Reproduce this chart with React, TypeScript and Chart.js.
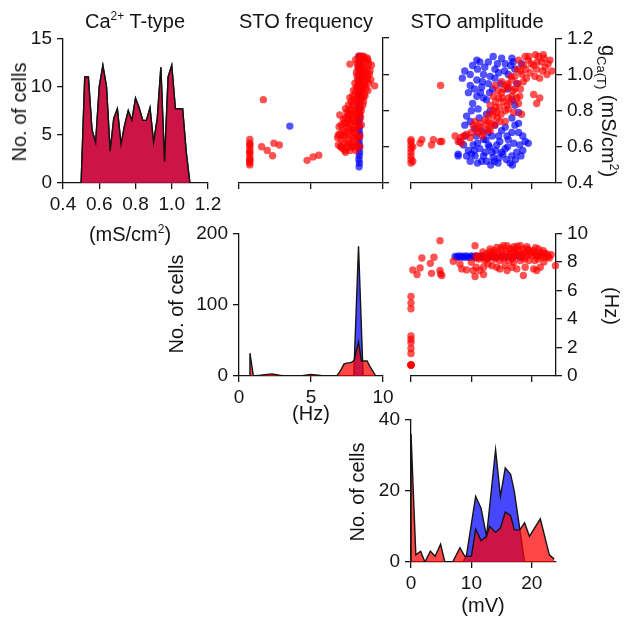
import React, { useEffect, useRef } from 'react';
import { Chart, registerables } from 'chart.js';
Chart.register(...registerables);

const FONT = "'Liberation Sans', Arial, Helvetica, sans-serif";
const INK = '#141414';
const RED_AREA = 'rgba(255,0,0,0.72)';
const BLUE_AREA = 'rgba(0,0,255,0.72)';
const RED_DOT = 'rgba(255,0,0,0.68)';
const BLUE_DOT = 'rgba(0,0,255,0.68)';

// ---------- tick values ----------
const gcaTicks = [0.4, 0.6, 0.8, 1.0, 1.2];
const cellTicksGca = [0, 5, 10, 15];
const hzTicks = [0, 5, 10];
const cellTicksHz = [0, 100, 200];
const mvTicks = [0, 10, 20];
const hzTicksRight = [0, 2, 4, 6, 8, 10];
const cellTicksMv = [0, 20, 40];

// ---------- histogram of g_Ca(T) (both groups identical) ----------
const gcaBins = [0.50, 0.52, 0.54, 0.56, 0.58, 0.60, 0.62, 0.64, 0.66, 0.68, 0.70, 0.72, 0.74, 0.76, 0.78, 0.80,
  0.82, 0.84, 0.86, 0.88, 0.90, 0.92, 0.94, 0.96, 0.98, 1.00, 1.02, 1.04, 1.06, 1.08, 1.10];
const gcaCounts = [0, 11, 11, 5.5, 4.2, 10, 12.2, 10, 3.3, 6.7, 7.7, 4, 6, 7.5, 6.5, 8.8,
  7.8, 6.5, 6.5, 7.8, 4.2, 6.7, 12, 2.2, 11, 12.2, 7.7, 7.7, 7.7, 3.2, 0];

// ---------- histogram of STO frequency ----------
const freqRedHz = [0.72, 0.76, 1.0, 1.5, 1.8, 2.3, 2.8, 3.2, 4.3, 4.6, 5.0, 5.5, 5.9, 6.8, 7.0, 7.3, 7.5, 7.8, 8.0, 8.3, 8.5, 8.9, 9.1, 9.5];
const freqRedCounts = [0, 32, 0, 1, 2, 3, 1, 0, 0, 1, 2, 1, 0, 0, 6, 17, 18, 19, 22, 48, 21, 21, 13, 0];
const freqBlueHz = [7.97, 8.3, 8.62];
const freqBlueCounts = [0, 182, 0];

// ---------- histogram of STO amplitude ----------
const ampRedMv = [0, 0, 0.8, 1.6, 2.3, 3.2, 4.0, 4.9, 5.6, 6.9, 8.1, 8.9, 10.0, 10.7, 11.6, 12.5, 13.0, 14.0, 14.8, 15.6, 16.5, 17.1, 18.0, 18.8, 19.6, 21.4, 22.9, 23.7];
const ampRedCounts = [0, 36, 2, 3, 0, 3, 1.6, 5, 0, 0, 4, 1.6, 1.6, 9.2, 6, 7.2, 10, 8.3, 9.5, 14, 13, 9, 9, 11, 7.2, 12.1, 2, 0.8];
const ampBlueMv = [8.6, 9.2, 10.7, 11.6, 12.5, 14.0, 14.8, 15.6, 16.5, 17.1, 18.8];
const ampBlueCounts = [0, 2, 18.4, 15.1, 7.2, 31.5, 18.4, 26.4, 24.5, 19.8, 0];

// ---------- scatter: STO frequency (Hz) vs g_Ca(T) ----------
const freqGcaBlue = [
  [8.34, 0.49], [8.36, 0.51], [8.33, 0.53], [8.35, 0.55], [8.37, 0.57], [8.34, 0.59], [8.36, 0.61], [8.33, 0.63],
  [8.35, 0.65], [8.37, 0.67], [8.34, 0.69], [8.36, 0.71], [8.33, 0.73], [8.35, 0.75], [8.37, 0.77], [8.34, 0.79],
  [8.36, 0.81], [8.33, 0.83], [8.35, 0.85], [8.37, 0.87], [8.34, 0.89], [8.36, 0.91], [8.33, 0.93], [8.35, 0.95],
  [8.37, 0.97], [8.34, 0.99], [8.36, 1.01], [8.33, 1.03], [8.35, 1.05], [8.37, 1.07], [8.34, 1.09], [8.36, 1.10],
  [3.53, 0.714],
];
const freqGcaRed = [
  [0.75, 0.50], [0.75, 0.52], [0.75, 0.54], [0.75, 0.56], [0.75, 0.58], [0.75, 0.60], [0.75, 0.62], [0.75, 0.64],
  [0.76, 0.53], [0.74, 0.57], [0.76, 0.61], [0.74, 0.51],
  [1.69, 0.86], [1.57, 0.60], [1.96, 0.58], [2.33, 0.55], [2.42, 0.62], [2.80, 0.61], [4.73, 0.525], [5.15, 0.544],
  [5.54, 0.553], [7.70, 1.056], [9.42, 0.936], [7.00, 0.775], [6.90, 0.665], [7.10, 0.60],
  [8.3, 1.10], [8.5, 1.10], [8.7, 1.09], [8.9, 1.09], [8.4, 1.08], [8.6, 1.07], [8.8, 1.07], [9.0, 1.06], [8.2, 1.06],
  [8.5, 1.05], [8.7, 1.04], [8.9, 1.03], [8.3, 1.03], [9.1, 1.02], [8.4, 1.01], [8.6, 1.00], [8.8, 1.00], [8.2, 0.99],
  [8.5, 0.98], [8.9, 0.97], [8.7, 0.96], [8.3, 0.96], [9.0, 0.95], [8.6, 0.94], [8.4, 0.93], [8.8, 0.92], [8.2, 0.92],
  [8.5, 0.91], [8.1, 0.90], [8.7, 0.89], [8.3, 0.88], [7.9, 0.88], [8.6, 0.87], [8.0, 0.86], [8.4, 0.85], [7.8, 0.85],
  [8.2, 0.84], [8.6, 0.83], [7.6, 0.83], [8.0, 0.82], [8.3, 0.81], [7.8, 0.80], [8.5, 0.80], [7.5, 0.79], [8.1, 0.78],
  [7.7, 0.78], [8.3, 0.77], [7.9, 0.76], [7.4, 0.76], [8.2, 0.75], [7.6, 0.75],
  [8.0, 0.74], [7.3, 0.73], [7.7, 0.73], [8.3, 0.72], [7.1, 0.72], [7.5, 0.71], [7.9, 0.70], [8.2, 0.70], [7.2, 0.69],
  [7.6, 0.68], [8.0, 0.68], [7.0, 0.67], [7.4, 0.66], [7.8, 0.66], [8.3, 0.65], [7.1, 0.64], [7.6, 0.64], [8.0, 0.63],
  [7.3, 0.62], [7.8, 0.62], [8.2, 0.61], [6.9, 0.61], [7.5, 0.60], [7.9, 0.60], [7.2, 0.59], [7.7, 0.58], [8.1, 0.58],
  [7.4, 0.57], [8.4, 0.60], [8.4, 0.66], [8.5, 0.72], [8.4, 0.78],
  [8.1, 1.08], [8.45, 1.09], [8.65, 1.10], [8.95, 1.08], [9.2, 1.05], [8.25, 1.04], [8.55, 1.03], [8.75, 1.02],
  [9.05, 1.00], [8.15, 1.01], [8.45, 0.99], [8.65, 0.98], [8.95, 0.99], [9.15, 0.97], [8.25, 0.97], [8.05, 0.95],
  [8.75, 0.94], [8.45, 0.95], [8.15, 0.93], [8.95, 0.91], [8.55, 0.92], [8.35, 0.90], [8.75, 0.88], [7.95, 0.91],
  [8.45, 0.87], [8.15, 0.86], [7.7, 0.87], [8.65, 0.85], [7.85, 0.83], [8.45, 0.82], [7.4, 0.81], [8.15, 0.80],
  [7.65, 0.80], [7.95, 0.78], [8.45, 0.76], [7.55, 0.77], [7.25, 0.75], [7.85, 0.74], [8.1, 0.72], [7.45, 0.73],
  [6.95, 0.71], [7.65, 0.70], [7.35, 0.68], [7.85, 0.69], [8.15, 0.66], [6.85, 0.65], [7.25, 0.66], [7.55, 0.62],
  [7.95, 0.65], [7.05, 0.60], [7.35, 0.58], [7.75, 0.60], [8.05, 0.60],
];

// ---------- scatter: STO amplitude (mV) vs g_Ca(T) ----------
const ampGcaBlue = [
  [10.9, 1.08], [11.4, 1.07], [13.6, 1.10], [15.0, 1.09], [16.7, 1.09], [15.6, 1.06], [8.9, 1.02], [9.8, 1.00],
  [12.2, 1.04], [13.9, 1.03], [13.1, 0.99], [17.2, 1.03], [16.1, 1.00], [18.3, 1.06],
  [9.8, 0.94], [10.9, 0.97], [11.7, 0.93], [12.8, 0.95], [13.9, 0.98], [10.9, 0.88], [12.0, 0.87], [11.1, 0.81],
  [10.0, 0.80], [13.1, 0.80], [17.2, 0.83], [17.8, 0.79], [16.7, 0.76], [12.5, 0.78],
  [9.2, 0.77], [8.9, 0.72], [11.7, 0.69], [13.9, 0.72], [15.6, 0.71], [17.2, 0.72], [16.7, 0.68], [15.0, 0.69],
  [17.8, 0.68], [13.4, 0.66],
  [7.8, 0.56], [9.2, 0.55], [9.8, 0.52], [10.6, 0.55], [12.3, 0.57], [12.5, 0.52], [13.6, 0.54], [14.2, 0.61],
  [14.7, 0.63], [15.0, 0.57], [15.6, 0.59], [15.8, 0.53], [16.7, 0.55], [17.5, 0.57], [18.0, 0.61], [18.9, 0.63],
  [16.1, 0.64], [14.4, 0.51], [12.8, 0.61], [11.4, 0.59], [10.3, 0.61], [8.7, 0.61], [16.4, 0.51], [13.4, 0.57],
  [11.7, 0.52], [8.1, 0.63], [19.4, 0.62], [7.8, 0.55],
  [11.0, 0.62], [12.0, 0.64], [13.0, 0.60], [14.0, 0.58], [15.2, 0.56], [16.0, 0.60], [17.0, 0.62], [13.8, 0.52],
  [12.0, 0.55], [10.5, 0.58], [9.5, 0.58], [16.8, 0.50], [18.5, 0.58], [14.5, 0.66], [12.8, 0.68], [11.3, 0.76],
  [10.2, 0.84], [11.5, 0.90], [12.5, 0.86], [13.5, 0.92], [14.5, 1.01], [12.0, 1.00], [11.0, 1.03], [16.5, 1.05],
  [17.5, 0.95], [16.0, 0.92], [9.5, 0.90], [8.5, 0.98], [10.5, 0.70], [9.0, 0.66],
  [10.2, 1.05], [12.8, 1.07], [14.3, 1.06], [15.5, 1.02], [16.9, 1.07], [11.8, 0.96], [10.5, 0.92], [13.0, 0.90],
  [14.8, 0.95], [16.8, 0.86], [17.8, 0.73], [18.5, 0.66], [9.8, 0.74], [10.8, 0.66], [12.4, 0.64], [14.6, 0.54],
  [15.9, 0.66], [17.3, 0.53], [18.2, 0.55], [11.0, 0.51], [13.2, 0.50], [10.0, 0.56],
];
const ampGcaRed = [
  [0, 0.51], [0, 0.53], [0, 0.55], [0, 0.57], [0, 0.59], [0, 0.61], [0, 0.63], [0, 0.64], [0.3, 0.52], [0.3, 0.60],
  [1.5, 0.62], [1.8, 0.64], [3.4, 0.61], [3.7, 0.64], [4.8, 0.63], [5.1, 0.63], [4.9, 0.94],
  [7.3, 0.66], [7.8, 0.63], [8.4, 0.62], [8.7, 0.66], [9.8, 0.65], [10.0, 0.68],
  [10.3, 0.72], [10.9, 0.70], [11.4, 0.71], [12.0, 0.68], [12.5, 0.72], [13.1, 0.69], [11.1, 0.68], [10.6, 0.74],
  [12.3, 0.75], [13.4, 0.73],
  [13.6, 0.77], [14.2, 0.79], [14.7, 0.82], [15.3, 0.85], [15.6, 0.80], [16.1, 0.87], [16.7, 0.88], [14.5, 0.87],
  [15.0, 0.90], [15.8, 0.94], [16.7, 0.97], [17.2, 0.92], [17.8, 0.84], [18.3, 0.78], [13.9, 0.94], [15.0, 0.96],
  [17.2, 0.99], [18.0, 0.88], [16.1, 0.81], [17.0, 0.79], [14.7, 0.74], [15.6, 0.74], [18.6, 0.96], [13.1, 0.83],
  [13.6, 0.88],
  [17.8, 1.08], [18.6, 1.05], [19.4, 1.08], [20.3, 1.05], [21.1, 1.10], [21.6, 1.07], [22.2, 1.04], [22.7, 1.06],
  [23.3, 1.02], [19.7, 1.01], [20.5, 0.99], [21.3, 0.98], [19.1, 0.98], [21.9, 1.11], [20.8, 1.03], [22.5, 1.00],
  [18.9, 1.10], [18.1, 1.02], [23.0, 1.08],
  [21.3, 0.87], [20.8, 0.84], [20.3, 0.89],
  [11.5, 0.73], [12.8, 0.74], [13.8, 0.72], [14.3, 0.76], [14.9, 0.78], [15.9, 0.83], [16.4, 0.85], [17.5, 0.87],
  [16.9, 0.91], [16.2, 0.93], [15.4, 0.92], [14.4, 0.91], [14.0, 0.85], [15.1, 0.87], [17.7, 0.95], [18.1, 0.92],
  [19.0, 1.03], [19.9, 1.06], [20.9, 1.07], [21.8, 1.02], [22.0, 1.09], [19.5, 1.10], [20.6, 1.11], [18.4, 1.00],
  [17.6, 1.03], [16.5, 0.99], [16.0, 0.95], [9.2, 0.67], [8.2, 0.65], [11.8, 0.66], [12.8, 0.70], [13.7, 0.80],
  [12.9, 0.78], [14.0, 0.82],
];

// ---------- scatter: STO amplitude (mV) vs STO frequency (Hz) ----------
const ampFreqBlue = [
  [7.3, 8.38], [7.6, 8.33], [7.9, 8.41], [8.2, 8.35], [8.5, 8.40], [8.8, 8.32], [9.1, 8.41], [9.4, 8.35],
  [9.7, 8.31], [10.0, 8.41], [10.3, 8.36], [10.6, 8.31], [10.9, 8.40], [11.2, 8.34], [11.5, 8.39], [11.8, 8.33],
  [12.2, 8.38], [12.8, 8.35], [13.5, 8.40], [14.2, 8.33], [15.0, 8.38], [16.0, 8.35], [17.0, 8.40], [18.0, 8.34],
];
const ampFreqRed = [
  [0, 0.77], [0, 0.77], [0, 0.77], [0, 0.78], [0, 1.58], [0, 1.93], [0, 2.33], [0, 2.56], [0, 2.80], [0, 4.72],
  [0, 5.12], [0, 5.58],
  [0.3, 7.44], [1.0, 7.12], [1.5, 7.58], [1.8, 8.28], [3.2, 7.90], [3.4, 7.20], [3.8, 8.33], [4.8, 9.49],
  [4.8, 7.40], [4.9, 7.16], [5.1, 7.05],
  [7.0, 8.05], [8.1, 7.86], [8.4, 7.51], [9.2, 7.44], [10.6, 9.14], [10.6, 6.98], [10.0, 7.98], [10.8, 7.63],
  [11.4, 7.40], [12.0, 7.12], [10.3, 7.40],
  [11.7, 8.44], [12.5, 8.56], [13.1, 8.33], [13.6, 8.67], [14.2, 9.02], [14.5, 8.44], [15.0, 8.79], [15.3, 9.14],
  [15.6, 8.33], [16.2, 8.91], [16.4, 8.56], [17.0, 9.07], [17.2, 8.44], [17.8, 8.79], [18.1, 9.14], [18.4, 8.33],
  [18.9, 8.67], [19.2, 9.07], [19.7, 8.56], [20.3, 8.79], [20.8, 8.44], [21.4, 8.67], [21.9, 8.79], [22.5, 8.56],
  [22.9, 8.28], [12.2, 8.10], [13.4, 7.74], [14.2, 7.63], [14.7, 7.51], [15.6, 7.74], [15.9, 7.40], [16.7, 7.63],
  [17.5, 7.51], [18.6, 7.05], [18.9, 7.63], [20.3, 7.51], [20.8, 7.40], [21.4, 7.63], [23.9, 7.74], [13.1, 8.91],
  [13.9, 8.21], [14.7, 8.10], [16.2, 8.10], [17.0, 7.98], [18.1, 8.10], [19.5, 8.10], [20.5, 8.10], [21.7, 8.33],
  [22.3, 8.33], [12.0, 7.63], [12.8, 7.86], [10.8, 8.44], [11.2, 8.21], [15.9, 9.14], [16.7, 8.91], [18.6, 8.91],
  [17.5, 8.56], [20.0, 8.44], [21.1, 8.91],
  [11.0, 8.3], [11.9, 8.7], [12.6, 8.2], [13.3, 8.5], [13.8, 8.8], [14.4, 8.6], [15.2, 8.5], [15.8, 8.7],
  [16.5, 8.4], [16.9, 8.7], [17.4, 8.9], [18.0, 8.5], [18.6, 8.6], [19.0, 8.4], [19.5, 8.8], [20.0, 8.7],
  [20.6, 8.6], [21.0, 8.4], [21.6, 8.5], [22.1, 8.6], [22.7, 8.4], [23.2, 8.5], [19.3, 8.9], [20.6, 9.0],
  [17.6, 9.1], [14.9, 9.0], [13.0, 8.7], [12.3, 8.3], [14.0, 8.3], [15.3, 8.2], [16.8, 8.2], [18.8, 8.2],
  [21.0, 8.2], [22.0, 8.0],
];

// ---------- helpers ----------
const M = 64; // horizontal margin around the plot area (axis band)
const T = 16; // top margin
const B = 40; // bottom axis band

type Area = { l: number; t: number; r: number; b: number };
type AxisSpec = { min: number; max: number; ticks: number[]; labels: boolean; decimals: number; position: string };

const xy = (xs: number[], ys: number[]) => xs.map((x, i) => ({ x, y: ys[i] }));
const pairs = (p: number[][]) => p.map(([x, y]) => ({ x, y }));

function axis(ax: AxisSpec, isX: boolean) {
  return {
    type: 'linear',
    position: ax.position,
    min: ax.min,
    max: ax.max,
    afterBuildTicks: (s: any) => {
      s.ticks = ax.ticks.map((v) => ({ value: v }));
    },
    afterFit: (s: any) => {
      if (isX) s.height = B;
      else s.width = M;
    },
    ticks: {
      display: ax.labels,
      autoSkip: false,
      maxRotation: 0,
      minRotation: 0,
      padding: isX ? 4 : 5,
      color: INK,
      font: { family: FONT, size: 19 },
      callback: (v: any) => Number(v).toFixed(ax.decimals),
    },
    grid: { display: true, drawOnChartArea: false, drawTicks: true, tickLength: 6, color: INK, lineWidth: 1.3 },
    border: { display: true, color: INK, width: 1.3 },
  };
}

// Chart.js paints dataset 0 last, so the red series (drawn on top) is listed first.
function areaSet(data: any[], fill: string) {
  return {
    type: 'line',
    data,
    fill: 'origin',
    backgroundColor: fill,
    borderColor: INK,
    borderWidth: 1.4,
    borderJoinStyle: 'miter',
    pointRadius: 0,
    tension: 0,
  };
}

function dotSet(data: any[], color: string) {
  return {
    type: 'scatter',
    data,
    backgroundColor: color,
    borderWidth: 0,
    pointRadius: 3.7,
    pointHoverRadius: 3.7,
    clip: false,
  };
}

function Panel({ area, xAxis, yAxis, datasets }: { area: Area; xAxis: AxisSpec; yAxis: AxisSpec; datasets: any[] }) {
  const ref = useRef<HTMLCanvasElement>(null);
  const W = area.r - area.l + 2 * M;
  const H = area.b - area.t + T + B;
  useEffect(() => {
    const c = ref.current;
    if (!c) return;
    const chart = new Chart(c, {
      type: 'scatter',
      data: { datasets },
      options: {
        responsive: false,
        animation: false,
        devicePixelRatio: 1,
        events: [],
        layout: {
          padding: {
            left: yAxis.position === 'left' ? 0 : M,
            right: yAxis.position === 'right' ? 0 : M,
            top: T,
            bottom: 0,
          },
        },
        plugins: { legend: { display: false }, tooltip: { enabled: false }, title: { display: false } },
        scales: { x: axis(xAxis, true), y: axis(yAxis, false) },
      } as any,
    } as any);
    return () => chart.destroy();
  }, []);
  return (
    <canvas
      ref={ref}
      width={W}
      height={H}
      style={{ position: 'absolute', left: area.l - M, top: area.t - T, width: W, height: H }}
    />
  );
}

function Label({ x, y, rot = 0, size = 20, children }: any) {
  return (
    <div
      style={{
        position: 'absolute',
        left: x,
        top: y,
        transform: `translate(-50%, -50%) rotate(${rot}deg)`,
        whiteSpace: 'nowrap',
        fontFamily: FONT,
        fontSize: size,
        lineHeight: 1,
        color: INK,
      }}
    >
      {children}
    </div>
  );
}

const sup = { fontSize: 12, position: 'relative' as const, top: -8 };
const sub = { fontSize: 13, position: 'relative' as const, top: 5 };

export default function App() {
  const gcaX: AxisSpec = { min: 0.4, max: 1.2, ticks: gcaTicks, labels: true, decimals: 1, position: 'bottom' };
  return (
    <div style={{ position: 'fixed', left: 0, top: 0, width: 628, height: 621, background: '#fff', overflow: 'hidden' }}>
      {/* Row 1 */}
      <Panel
        area={{ l: 63, t: 38, r: 208, b: 183 }}
        xAxis={gcaX}
        yAxis={{ min: 0, max: 15, ticks: cellTicksGca, labels: true, decimals: 0, position: 'left' }}
        datasets={[areaSet(xy(gcaBins, gcaCounts), RED_AREA), areaSet(xy(gcaBins, gcaCounts), BLUE_AREA)]}
      />
      <Panel
        area={{ l: 239, t: 38, r: 383, b: 183 }}
        xAxis={{ min: 0, max: 10, ticks: hzTicks, labels: false, decimals: 0, position: 'bottom' }}
        yAxis={{ min: 0.4, max: 1.2, ticks: gcaTicks, labels: false, decimals: 1, position: 'right' }}
        datasets={[dotSet(pairs(freqGcaRed), RED_DOT), dotSet(pairs(freqGcaBlue), BLUE_DOT)]}
      />
      <Panel
        area={{ l: 411, t: 38, r: 556, b: 183 }}
        xAxis={{ min: 0, max: 24, ticks: mvTicks, labels: false, decimals: 0, position: 'bottom' }}
        yAxis={{ min: 0.4, max: 1.2, ticks: gcaTicks, labels: true, decimals: 1, position: 'right' }}
        datasets={[dotSet(pairs(ampGcaRed), RED_DOT), dotSet(pairs(ampGcaBlue), BLUE_DOT)]}
      />
      {/* Row 2 */}
      <Panel
        area={{ l: 239, t: 233, r: 383, b: 376 }}
        xAxis={{ min: 0, max: 10, ticks: hzTicks, labels: true, decimals: 0, position: 'bottom' }}
        yAxis={{ min: 0, max: 200, ticks: cellTicksHz, labels: true, decimals: 0, position: 'left' }}
        datasets={[areaSet(xy(freqRedHz, freqRedCounts), RED_AREA), areaSet(xy(freqBlueHz, freqBlueCounts), BLUE_AREA)]}
      />
      <Panel
        area={{ l: 411, t: 233, r: 556, b: 376 }}
        xAxis={{ min: 0, max: 24, ticks: mvTicks, labels: false, decimals: 0, position: 'bottom' }}
        yAxis={{ min: 0, max: 10, ticks: hzTicksRight, labels: true, decimals: 0, position: 'right' }}
        datasets={[dotSet(pairs(ampFreqRed), RED_DOT), dotSet(pairs(ampFreqBlue), BLUE_DOT)]}
      />
      {/* Row 3 */}
      <Panel
        area={{ l: 411, t: 419, r: 556, b: 562 }}
        xAxis={{ min: 0, max: 24, ticks: mvTicks, labels: true, decimals: 0, position: 'bottom' }}
        yAxis={{ min: 0, max: 40, ticks: cellTicksMv, labels: true, decimals: 0, position: 'left' }}
        datasets={[areaSet(xy(ampRedMv, ampRedCounts), RED_AREA), areaSet(xy(ampBlueMv, ampBlueCounts), BLUE_AREA)]}
      />

      {/* Text */}
      <Label x={135} y={21}>Ca<span style={sup}>2+</span> T-type</Label>
      <Label x={306} y={21}>STO frequency</Label>
      <Label x={477} y={21}>STO amplitude</Label>
      <Label x={130} y={234}>(mS/cm<span style={sup}>2</span>)</Label>
      <Label x={19} y={112} rot={-90}>No. of cells</Label>
      <Label x={176} y={304} rot={-90}>No. of cells</Label>
      <Label x={311} y={413}>(Hz)</Label>
      <Label x={609} y={111} rot={90}>g<span style={sub}>Ca(T)</span> (mS/cm<span style={sup}>2</span>)</Label>
      <Label x={612} y={306} rot={90}>(Hz)</Label>
      <Label x={357} y={492} rot={-90}>No. of cells</Label>
      <Label x={483} y={605}>(mV)</Label>
    </div>
  );
}
